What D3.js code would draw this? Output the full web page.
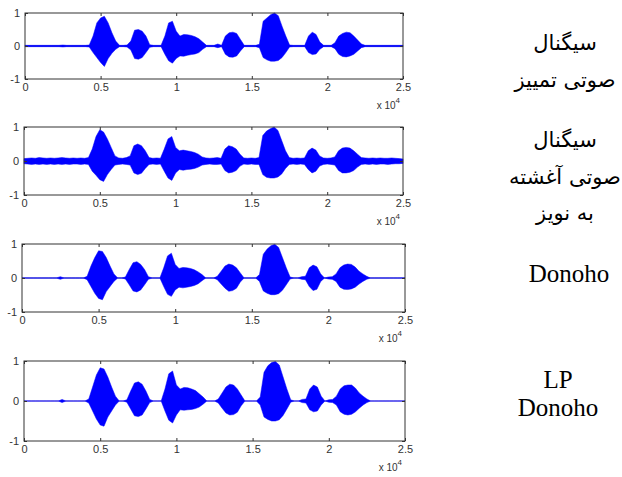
<!DOCTYPE html>
<html>
<head>
<meta charset="utf-8">
<script src="https://cdn.jsdelivr.net/npm/d3@7"></script>
<style>
  body { margin: 0; background: #fff; }
  .tick text { font-family: "Liberation Sans", Arial, sans-serif; font-size: 11px; fill: #333; }
</style>
</head>
<body>
<div id="chart"></div>
<script>
// sample grid, every 250 samples across 2.5 x 10^4
const sampleIdx = d3.range(0, 25001, 250);

const xTicks = [0, 5000, 10000, 15000, 20000, 25000];
const yTicks = [-1, 0, 1];

// envelope (upper / lower)
const cleanHi = [.02,.02,.02,.02,.02,.02,.02,.02,.02,.02,
  .03,.02,.02,.02,.02,.02,.02,.03,.30,.70,
  .85,.90,.70,.40,.15,.02,.02,.03,.15,.48,
  .50,.45,.30,.04,.02,.02,.02,.30,.70,.75,
  .45,.30,.35,.34,.32,.28,.22,.12,.02,.02,
  .02,.06,.02,.30,.40,.42,.38,.20,.02,.02,
  .02,.02,.05,.75,.85,.95,1.0,.92,.60,.30,
  .03,.02,.02,.02,.02,.30,.42,.35,.12,.02,
  .02,.02,.10,.30,.38,.42,.40,.30,.18,.06,
  .02,.02,.02,.02,.02,.02,.02,.02,.02,.02,.02];
const cleanLo = [-.02,-.02,-.02,-.02,-.02,-.02,-.02,-.02,-.02,-.02,
  -.03,-.02,-.02,-.02,-.02,-.02,-.02,-.03,-.20,-.35,
  -.50,-.62,-.38,-.22,-.10,-.02,-.02,-.03,-.12,-.38,
  -.40,-.35,-.20,-.04,-.02,-.02,-.02,-.25,-.45,-.52,
  -.38,-.30,-.31,-.28,-.26,-.24,-.20,-.10,-.02,-.02,
  -.02,-.05,-.02,-.25,-.33,-.34,-.30,-.15,-.02,-.02,
  -.02,-.02,-.05,-.35,-.42,-.46,-.46,-.44,-.35,-.20,
  -.03,-.02,-.02,-.02,-.02,-.20,-.26,-.24,-.10,-.02,
  -.02,-.02,-.08,-.25,-.32,-.33,-.30,-.25,-.15,-.05,
  -.02,-.02,-.02,-.02,-.02,-.02,-.02,-.02,-.02,-.02,-.02];

const noisyHi = [.07,.08,.09,.08,.10,.09,.08,.09,.08,.09,
  .10,.09,.08,.09,.08,.09,.08,.10,.35,.72,
  .92,.85,.65,.40,.15,.09,.08,.10,.15,.45,
  .50,.45,.30,.10,.08,.09,.08,.35,.65,.72,
  .40,.30,.32,.30,.28,.25,.20,.12,.09,.08,
  .09,.10,.08,.35,.45,.42,.35,.20,.09,.08,
  .09,.08,.10,.75,.88,.95,1.0,.90,.60,.30,
  .10,.08,.09,.08,.09,.30,.38,.32,.15,.09,
  .08,.09,.12,.30,.38,.40,.38,.30,.20,.10,
  .09,.08,.09,.08,.09,.08,.08,.09,.08,.07,.06];
const noisyLo = [-.08,-.09,-.10,-.09,-.10,-.09,-.10,-.09,-.10,-.09,
  -.10,-.09,-.10,-.09,-.09,-.10,-.09,-.10,-.30,-.42,
  -.55,-.60,-.40,-.25,-.12,-.10,-.09,-.10,-.12,-.35,
  -.40,-.36,-.22,-.10,-.09,-.10,-.09,-.30,-.50,-.57,
  -.35,-.25,-.27,-.25,-.24,-.22,-.18,-.12,-.10,-.09,
  -.10,-.10,-.09,-.28,-.35,-.33,-.28,-.15,-.09,-.10,
  -.09,-.10,-.10,-.40,-.48,-.50,-.50,-.47,-.38,-.22,
  -.10,-.09,-.10,-.09,-.10,-.25,-.35,-.30,-.15,-.10,
  -.09,-.10,-.12,-.28,-.35,-.35,-.33,-.28,-.18,-.10,
  -.09,-.10,-.09,-.10,-.09,-.09,-.10,-.09,-.08,-.08,-.07];

const donohoHi = [0,0,0,0,0,0,0,0,0,0,
  .04,0,0,0,0,0,0,.05,.35,.60,
  .80,.78,.60,.35,.12,0,0,.03,.25,.45,
  .48,.40,.25,.04,0,0,0,.30,.65,.73,
  .40,.28,.31,.30,.28,.24,.18,.10,0,0,
  0,.05,.20,.35,.41,.38,.30,.15,0,0,
  0,0,.10,.70,.85,.95,.99,.90,.60,.30,
  .03,0,0,.04,.05,.30,.38,.33,.12,0,
  .03,.04,.12,.30,.38,.41,.40,.32,.20,.12,
  .05,0,0,0,0,0,0,0,0,0,0];
const donohoLo = [0,0,0,0,0,0,0,0,0,0,
  -.04,0,0,0,0,0,0,-.05,-.25,-.45,
  -.60,-.64,-.40,-.25,-.10,0,0,-.03,-.20,-.38,
  -.41,-.35,-.20,-.04,0,0,0,-.25,-.48,-.54,
  -.35,-.27,-.29,-.27,-.25,-.22,-.17,-.08,0,0,
  0,-.05,-.18,-.30,-.39,-.37,-.30,-.12,0,0,
  0,0,-.10,-.38,-.45,-.49,-.49,-.46,-.36,-.20,
  -.03,0,0,-.04,-.05,-.25,-.37,-.33,-.10,0,
  -.03,-.04,-.10,-.27,-.33,-.34,-.32,-.27,-.18,-.10,
  -.04,0,0,0,0,0,0,0,0,0,0];

const lpHi = [0,0,0,0,0,0,0,0,0,0,
  .04,0,0,0,0,0,0,.05,.35,.65,
  .83,.80,.60,.35,.12,0,0,.03,.25,.45,
  .48,.42,.25,.04,0,0,0,.30,.68,.75,
  .40,.30,.34,.33,.30,.26,.18,.10,0,0,
  0,.05,.20,.35,.42,.40,.30,.15,0,0,
  0,0,.10,.72,.88,.96,.99,.90,.60,.30,
  .03,0,0,.04,.05,.30,.40,.35,.12,0,
  .03,.04,.12,.30,.38,.40,.40,.32,.20,.12,
  .05,0,0,0,0,0,0,0,0,0,0];
const lpLo = [0,0,0,0,0,0,0,0,0,0,
  -.04,0,0,0,0,0,0,-.05,-.25,-.45,
  -.60,-.63,-.40,-.25,-.10,0,0,-.03,-.20,-.37,
  -.39,-.35,-.20,-.04,0,0,0,-.25,-.48,-.55,
  -.35,-.22,-.23,-.22,-.21,-.19,-.15,-.08,0,0,
  0,-.05,-.18,-.30,-.35,-.34,-.28,-.12,0,0,
  0,0,-.10,-.40,-.46,-.50,-.50,-.47,-.36,-.20,
  -.03,0,0,-.04,-.05,-.22,-.27,-.25,-.10,0,
  -.03,-.04,-.10,-.27,-.33,-.35,-.33,-.27,-.18,-.10,
  -.04,0,0,0,0,0,0,0,0,0,0];

const persianLabels = ["سیگنال", "صوتی تمییز", "سیگنال", "صوتی آغشته", "به نویز"];
const latinLabels = ["Donoho", "LP", "Donoho"];

const width = 622, height = 477;

const panels = [
  {hi: cleanHi,  lo: cleanLo,  left: 25, right: 403, top: 13,  bottom: 79,  line: "#1428a0", lw: 1.2},
  {hi: noisyHi,  lo: noisyLo,  left: 24, right: 403, top: 127, bottom: 195, line: "#0000ff", lw: 0.8},
  {hi: donohoHi, lo: donohoLo, left: 22, right: 405, top: 244, bottom: 312, line: "#2828b0", lw: 1},
  {hi: lpHi,     lo: lpLo,     left: 24, right: 405, top: 361, bottom: 441, line: "#7a68c8", lw: 1}
];

const svg = d3.select("#chart").append("svg")
    .attr("width", width)
    .attr("height", height)
    .style("display", "block");

panels.forEach(p => {
  const x = d3.scaleLinear().domain([0, 25000]).range([p.left, p.right]);
  const y = d3.scaleLinear().domain([-1, 1]).range([p.bottom, p.top]);
  const g = svg.append("g");

  // zero line under the signal
  g.append("line")
    .attr("x1", x(0)).attr("x2", x(25000))
    .attr("y1", y(0)).attr("y2", y(0))
    .attr("stroke", p.line)
    .attr("stroke-width", p.lw);

  const area = d3.area()
    .x((d, i) => x(sampleIdx[i]))
    .y0((d, i) => y(p.lo[i]))
    .y1((d, i) => y(p.hi[i]));

  g.append("path")
    .datum(p.hi)
    .attr("d", area)
    .attr("fill", "#0000ff")
    .attr("stroke", "#0000ff")
    .attr("stroke-width", 0.5);

  // box
  g.append("rect")
    .attr("x", p.left).attr("y", p.top)
    .attr("width", p.right - p.left).attr("height", p.bottom - p.top)
    .attr("fill", "none")
    .attr("stroke", "#333")
    .attr("stroke-width", 1);

  // x axis (ticks inside)
  const xa = g.append("g")
    .attr("transform", "translate(0," + p.bottom + ")")
    .call(d3.axisBottom(x).tickValues(xTicks).tickSize(-3).tickPadding(4)
      .tickFormat(d => String(d / 10000)));
  xa.select(".domain").remove();
  xa.selectAll("line").attr("stroke", "#333");

  const xt = g.append("g")
    .attr("transform", "translate(0," + p.top + ")")
    .call(d3.axisTop(x).tickValues(xTicks).tickSize(-3).tickFormat(""));
  xt.select(".domain").remove();
  xt.selectAll("line").attr("stroke", "#333");

  // y axis
  const ya = g.append("g")
    .attr("transform", "translate(" + p.left + ",0)")
    .call(d3.axisLeft(y).tickValues(yTicks).tickSize(-3).tickPadding(5)
      .tickFormat(d => String(d)));
  ya.select(".domain").remove();
  ya.selectAll("line").attr("stroke", "#333");

  const yr = g.append("g")
    .attr("transform", "translate(" + p.right + ",0)")
    .call(d3.axisRight(y).tickValues(yTicks).tickSize(-3).tickFormat(""));
  yr.select(".domain").remove();
  yr.selectAll("line").attr("stroke", "#333");

  // exponent label
  const ex = g.append("text")
    .attr("x", p.right - 3)
    .attr("y", p.bottom + 30)
    .attr("text-anchor", "end")
    .attr("font-family", "Liberation Sans, Arial, sans-serif")
    .attr("font-size", 10)
    .attr("fill", "#333");
  ex.append("tspan").text("x 10");
  ex.append("tspan").attr("dy", -6).attr("font-size", 8).text("4");
});

// right side captions
const fa = svg.append("g")
  .attr("font-family", "DejaVu Sans, sans-serif")
  .attr("font-size", 21)
  .attr("fill", "#000")
  .attr("text-anchor", "middle");
const faY = [50, 87, 147, 184, 220];
persianLabels.forEach((t, i) => {
  fa.append("text")
    .attr("x", 565).attr("y", faY[i])
    .text(t);
});

const la = svg.append("g")
  .attr("font-family", "Liberation Serif, Times New Roman, serif")
  .attr("font-size", 25)
  .attr("fill", "#000")
  .attr("text-anchor", "middle");
const laPos = [[569, 282], [558, 388], [558, 416]];
latinLabels.forEach((t, i) => {
  la.append("text").attr("x", laPos[i][0]).attr("y", laPos[i][1]).text(t);
});
</script>
</body>
</html>
